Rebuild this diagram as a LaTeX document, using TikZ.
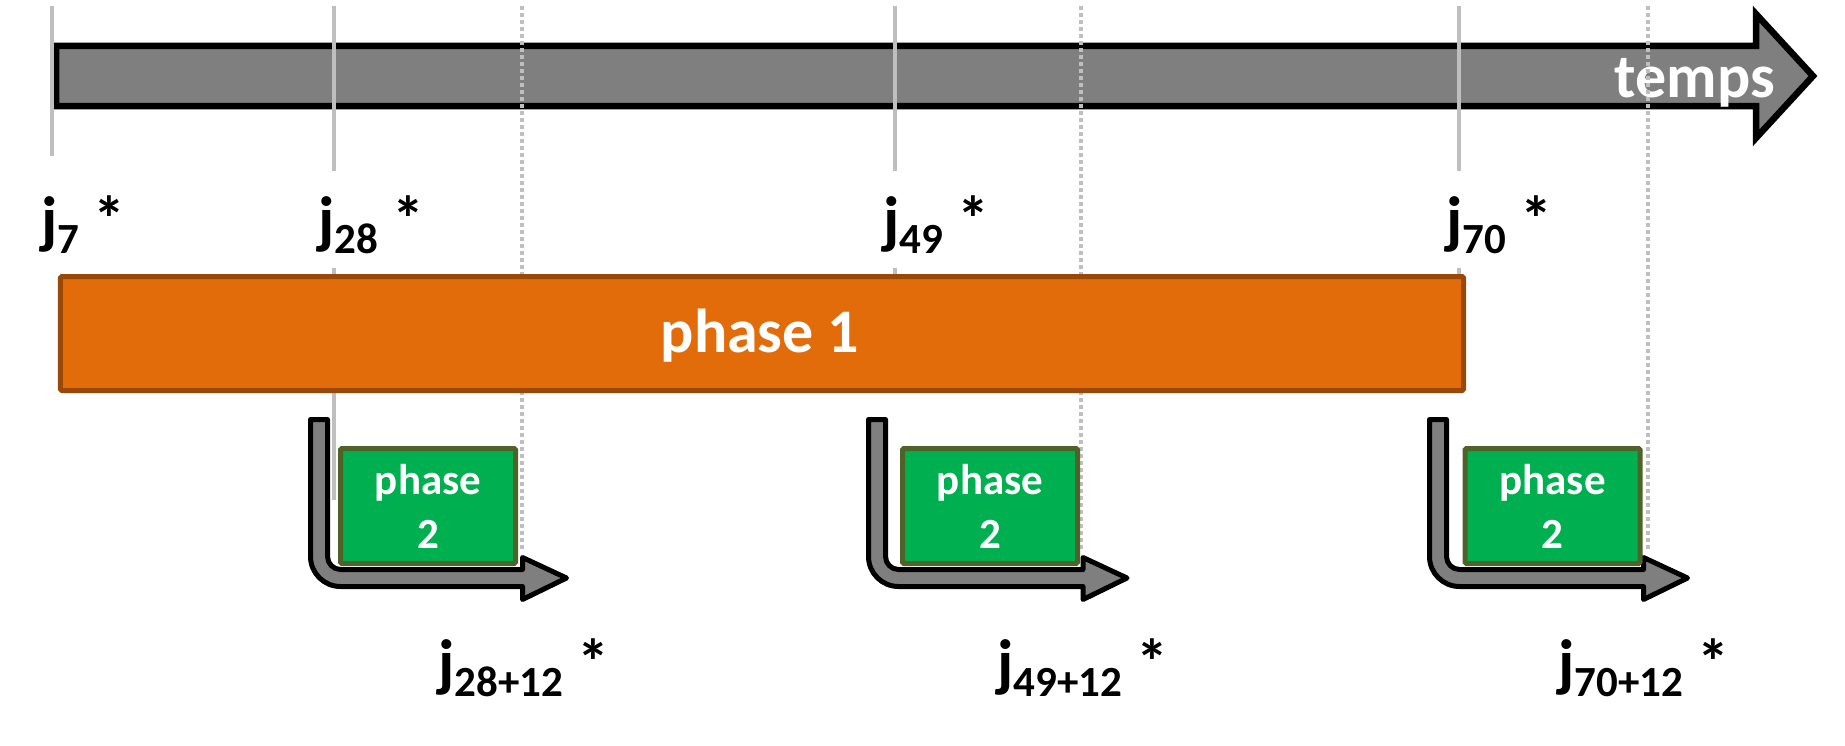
\documentclass[tikz,border=0pt]{standalone}
\usepackage{fontspec}
\setmainfont{Carlito}
\definecolor{tlgray}{HTML}{7F7F7F}
\definecolor{vline}{HTML}{BFBFBF}
\definecolor{orfill}{HTML}{E36C0A}
\definecolor{ordraw}{HTML}{984807}
\definecolor{grfill}{HTML}{00B050}
\definecolor{grdraw}{HTML}{4F6228}
\newcommand{\jsub}[1]{{\fontsize{43bp}{43bp}\selectfont\raisebox{-12bp}{#1}}}
\newcommand{\Larrow}[2]{%
  \draw[larrow] ({#1-8.5},419.5) -- ({#1-8.5},556.5)
    .. controls ({#1-8.5},573.06) and ({#1+4.94},586.5) .. ({#1+21.5},586.5)
    -- ({#2-44},586.5) -- ({#2-44},599.5) -- (#2,578) -- ({#2-44},557.5)
    -- ({#2-44},569.5) -- ({#1+21.5},569.5)
    .. controls ({#1+14.32},569.5) and ({#1+8.5},563.68) .. ({#1+8.5},556.5)
    -- ({#1+8.5},419.5) -- cycle;}
\begin{document}
\begin{tikzpicture}[x=1bp,y=-1bp,
  bigtxt/.style={font=\fontsize{64bp}{70bp}\selectfont\bfseries, inner sep=0pt},
  whitetxt/.style={font=\fontsize{62bp}{70bp}\selectfont\bfseries, inner sep=0pt, text=white},
  vsolid/.style={draw=vline, line width=4bp},
  vdot/.style={draw=vline, line width=4.5bp, dash pattern=on 4bp off 3bp},
  timeline/.style={fill=tlgray, draw=black, line width=6.5bp, line join=miter},
  larrow/.style={fill=tlgray, draw=black, line width=5bp, line join=round},
  phaseonebox/.style={fill=orfill, draw=ordraw, line width=5bp, rounded corners=1.5bp,
    minimum width=1403bp, minimum height=114bp, inner sep=0pt},
  phasetwobox/.style={fill=grfill, draw=grdraw, line width=5bp, rounded corners=1.5bp,
    minimum width=175bp, minimum height=115bp, inner sep=0pt, text=white, align=center,
    font=\fontsize{43bp}{54bp}\selectfont\bfseries}]
\useasboundingbox (0,0) rectangle (1845,746);
% time arrow
\draw[timeline] (56,46) -- (1756,46) -- (1756,14) -- (1813,76) -- (1756,138)
  -- (1756,106) -- (56,106) -- cycle;
\node[whitetxt, anchor=base east] (temps) at (1775,97) {temps};
% vertical guide lines
\draw[vsolid] (52,6) -- (52,156);
\draw[vsolid] (334,6) -- (334,171);
\draw[vsolid] (334,268) -- (334,500);
\draw[vsolid] (895,6) -- (895,171);
\draw[vsolid] (895,268) -- (895,280);
\draw[vsolid] (1459,6) -- (1459,171);
\draw[vsolid] (1459,268) -- (1459,280);
\draw[vdot] (522,6) -- (522,552);
\draw[vdot] (1081,6) -- (1081,552);
\draw[vdot] (1648,6) -- (1648,552);
% top labels
\node[bigtxt, anchor=base west] (l7) at (41,241) {j\jsub{7} *};
\node[bigtxt, anchor=base west] (l28) at (318,241) {j\jsub{28} *};
\node[bigtxt, anchor=base west] (l49) at (883,241) {j\jsub{49} *};
\node[bigtxt, anchor=base west] (l70) at (1446,241) {j\jsub{70} *};
% phase 1
\node[phaseonebox] (p1) at (762,333.5) {};
\node[whitetxt, anchor=base] (p1t) at (760,352) {phase 1};
% L arrows
\Larrow{319}{566.5}
\Larrow{877}{1127}
\Larrow{1438}{1687.5}
% phase 2 boxes
\node[phasetwobox] (p2a) at (428,506) {phase\\2};
\node[phasetwobox] (p2b) at (990,506) {phase\\2};
\node[phasetwobox] (p2c) at (1552.5,506) {phase\\2};
% bottom labels
\node[bigtxt, anchor=base west] (b28) at (438,684) {j\jsub{28+12} *};
\node[bigtxt, anchor=base west] (b49) at (997,684) {j\jsub{49+12} *};
\node[bigtxt, anchor=base west] (b70) at (1558,684) {j\jsub{70+12} *};
\end{tikzpicture}
\end{document}
